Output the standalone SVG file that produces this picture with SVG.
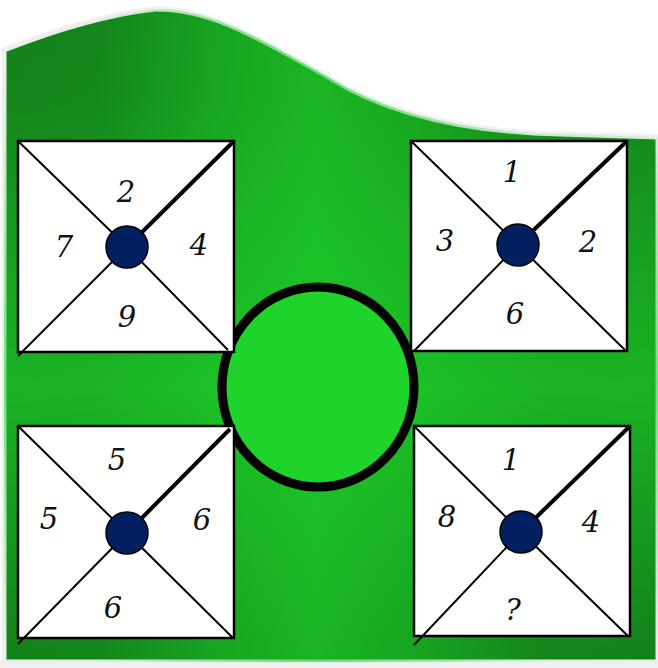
<svg xmlns="http://www.w3.org/2000/svg" width="658" height="668" viewBox="0 0 658 668">
<style>
.sq{fill:#fff;stroke:#000;stroke-width:2.5}
.dg{stroke:#000;stroke-width:2;fill:none}
.dgt{stroke:#000;stroke-width:4;fill:none}
.dot{fill:#022060;stroke:#000;stroke-width:1.5}
.n{font-family:"DejaVu Serif",serif;font-style:italic;font-size:29px;fill:#111;text-anchor:middle}
</style>
<defs>
<linearGradient id="gh" x1="0" y1="0" x2="658" y2="0" gradientUnits="userSpaceOnUse">
<stop offset="0" stop-color="#1ed42a" stop-opacity="0"/>
<stop offset="0.15" stop-color="#1ed42a" stop-opacity="0.05"/>
<stop offset="0.32" stop-color="#1ed42a" stop-opacity="0.4"/>
<stop offset="0.48" stop-color="#1ed42a" stop-opacity="0.62"/>
<stop offset="0.64" stop-color="#1ed42a" stop-opacity="0.4"/>
<stop offset="0.82" stop-color="#1ed42a" stop-opacity="0.05"/>
<stop offset="1" stop-color="#1ed42a" stop-opacity="0"/>
</linearGradient>
<linearGradient id="gv" x1="0" y1="0" x2="0" y2="668" gradientUnits="userSpaceOnUse">
<stop offset="0" stop-color="#1ed42a" stop-opacity="0"/>
<stop offset="0.15" stop-color="#1ed42a" stop-opacity="0.05"/>
<stop offset="0.4" stop-color="#1ed42a" stop-opacity="0.4"/>
<stop offset="0.58" stop-color="#1ed42a" stop-opacity="0.6"/>
<stop offset="0.75" stop-color="#1ed42a" stop-opacity="0.35"/>
<stop offset="0.97" stop-color="#1ed42a" stop-opacity="0.02"/>
</linearGradient>
<path id="shape" d="M4 50 C60 28,110 14,155 9 C215 8,270 45,330 78 C390 115,470 132,560 134 L658 137 L658 662 L4 662 Z"/>
<clipPath id="cp"><use href="#shape"/></clipPath>
</defs>
<rect x="0" y="0" width="658" height="668" fill="#fff"/>
<rect x="0" y="660" width="658" height="8" fill="#f0f0f0"/>
<g id="background">
<use href="#shape" fill="#13801a" stroke="#f0f0f0" stroke-width="5"/>
<g clip-path="url(#cp)">
<rect x="0" y="0" width="658" height="668" fill="url(#gh)"/>
<rect x="0" y="0" width="658" height="668" fill="url(#gv)"/>
</g>
</g>
<g id="center">
<ellipse cx="318" cy="387" rx="96" ry="100" fill="#1ed42a" stroke="#000" stroke-width="9"/>
</g>
<g id="sq-tl">
<rect class="sq" x="18" y="141" width="216" height="211"/>
<line class="dg" x1="18" y1="141" x2="127" y2="247"/>
<line class="dgt" x1="234" y1="141" x2="127" y2="247"/>
<line class="dg" x1="18" y1="356" x2="127" y2="247"/>
<line class="dg" x1="228" y1="350" x2="127" y2="247"/>
<circle class="dot" cx="127" cy="247" r="21"/>
<text class="n" x="126" y="202">2</text>
<text class="n" x="64" y="257">7</text>
<text class="n" x="199" y="255">4</text>
<text class="n" x="127" y="327">9</text>
</g>
<g id="sq-tr">
<rect class="sq" x="411" y="141" width="216" height="210"/>
<line class="dg" x1="411" y1="141" x2="518" y2="245"/>
<line class="dgt" x1="627" y1="141" x2="518" y2="245"/>
<line class="dg" x1="414" y1="351" x2="518" y2="245"/>
<line class="dg" x1="625" y1="350" x2="518" y2="245"/>
<circle class="dot" cx="518" cy="245" r="21"/>
<text class="n" x="512" y="182">1</text>
<text class="n" x="445" y="251">3</text>
<text class="n" x="588" y="252">2</text>
<text class="n" x="515" y="324">6</text>
</g>
<g id="sq-bl">
<rect class="sq" x="18" y="426" width="216" height="212"/>
<line class="dg" x1="18" y1="426" x2="127" y2="533"/>
<line class="dgt" x1="230" y1="429" x2="127" y2="533"/>
<line class="dg" x1="18" y1="644" x2="127" y2="533"/>
<line class="dg" x1="233" y1="638" x2="127" y2="533"/>
<circle class="dot" cx="127" cy="533" r="21"/>
<text class="n" x="117" y="470">5</text>
<text class="n" x="49" y="529">5</text>
<text class="n" x="202" y="530">6</text>
<text class="n" x="113" y="618">6</text>
</g>
<g id="sq-br">
<rect class="sq" x="414" y="426" width="216" height="210"/>
<line class="dg" x1="414" y1="426" x2="521" y2="532"/>
<line class="dgt" x1="630" y1="426" x2="521" y2="532"/>
<line class="dg" x1="414" y1="645" x2="521" y2="532"/>
<line class="dg" x1="628" y1="636" x2="521" y2="532"/>
<circle class="dot" cx="521" cy="532" r="21"/>
<text class="n" x="511" y="470">1</text>
<text class="n" x="447" y="527">8</text>
<text class="n" x="591" y="532">4</text>
<text class="n" x="513" y="620">?</text>
</g>
</svg>
